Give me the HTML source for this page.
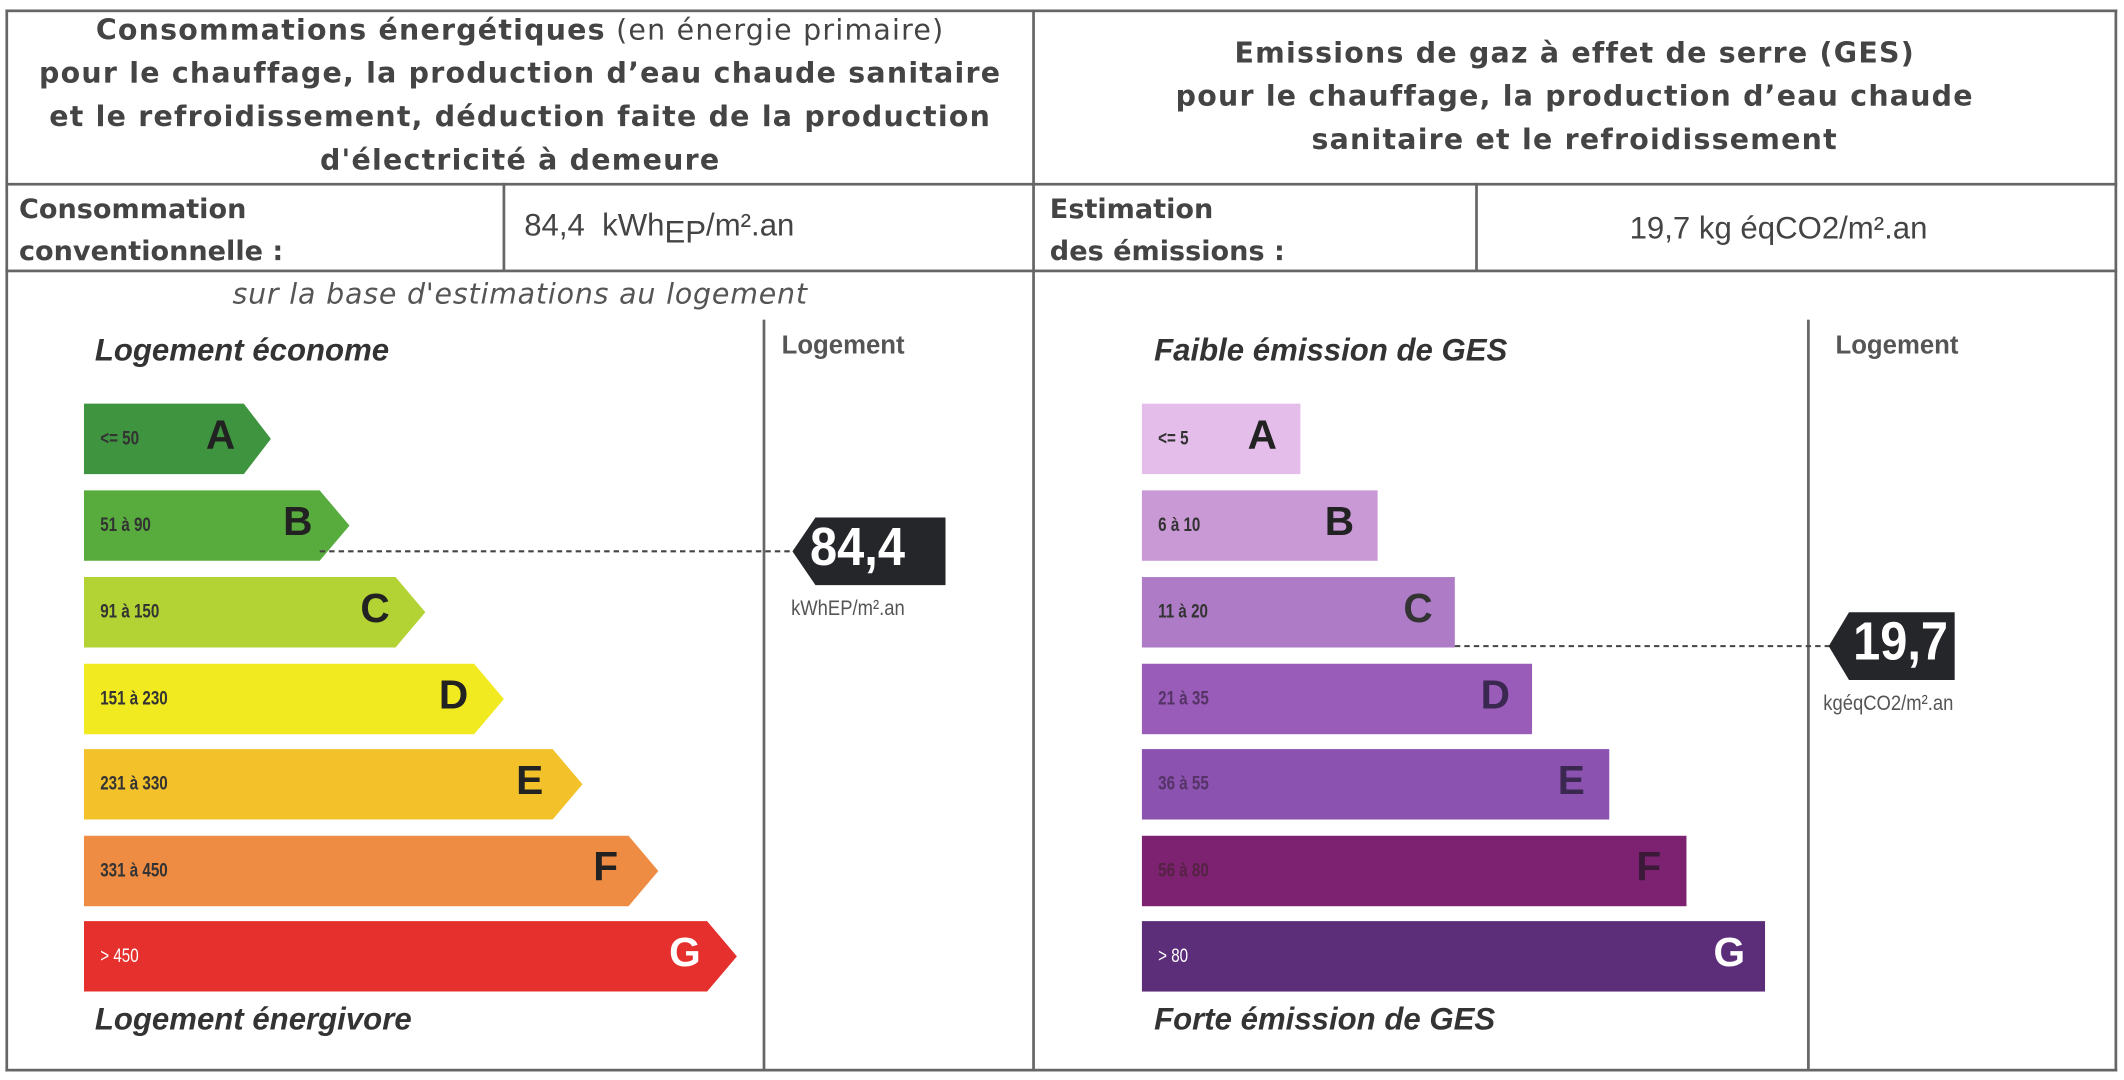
<!DOCTYPE html>
<html><head><meta charset="utf-8"><style>
html,body{margin:0;padding:0;background:#fff;width:2124px;height:1080px;overflow:hidden}
#w{position:absolute;left:0;top:0;width:1568px;height:797px;transform:scale(1.35459);transform-origin:0 0;font-family:"DejaVu Sans","Liberation Sans",sans-serif;color:#444}
.a{position:absolute;white-space:nowrap}
.h{position:absolute;background:#666}
.c{text-align:center}
.b{font-weight:bold}
.it{font-family:"Liberation Sans",sans-serif;font-style:italic;font-weight:bold;font-size:23px;color:#333}
.lg{font-family:"Liberation Sans",sans-serif;font-weight:bold;font-size:19px;color:#555}
.rl{position:absolute;font-family:"Liberation Sans",sans-serif;font-weight:bold;font-size:14px;color:#333;transform:scaleX(.8);transform-origin:0 50%}
.lt{position:absolute;font-family:"Liberation Sans",sans-serif;font-weight:bold;font-size:30px;color:#222}
</style></head><body><div id="w">
<div class="h" style="left:4px;top:7px;width:1559px;height:2px"></div>
<div class="h" style="left:4px;top:135px;width:1559px;height:2px"></div>
<div class="h" style="left:4px;top:199px;width:1559px;height:2px"></div>
<div class="h" style="left:4px;top:789px;width:1559px;height:2px"></div>
<div class="h" style="left:4px;top:7px;width:2px;height:784px"></div>
<div class="h" style="left:1561px;top:7px;width:2px;height:784px"></div>
<div class="h" style="left:762px;top:7px;width:2px;height:784px"></div>
<div class="h" style="left:371px;top:135px;width:1.5px;height:65px"></div>
<div class="h" style="left:1089px;top:135px;width:1.5px;height:65px"></div>
<div class="h" style="left:563px;top:236px;width:1.5px;height:554px"></div>
<div class="h" style="left:1334px;top:236px;width:1.5px;height:554px"></div>

<div class="a c" style="left:6px;width:756px;top:6px;font-size:21px;letter-spacing:0.9px;line-height:32px">
<span class="b">Consommations énergétiques</span> (en énergie primaire)<br>
<span class="b">pour le chauffage, la production d’eau chaude sanitaire<br>et le refroidissement, déduction faite de la production<br>d'électricité à demeure</span></div>
<div class="a c b" style="left:764px;width:797px;top:23px;font-size:21px;letter-spacing:0.9px;line-height:32px">Emissions de gaz à effet de serre (GES)<br>pour le chauffage, la production d’eau chaude<br>sanitaire et le refroidissement</div>

<div class="a b" style="left:14px;top:139px;font-size:20px;line-height:31px">Consommation<br>conventionnelle :</div>
<div class="a" style="left:387px;top:153px;font-family:'Liberation Sans',sans-serif;font-size:23px">84,4&nbsp; kWh<span style="position:relative;top:5px">EP</span>/m².an</div>
<div class="a b" style="left:775px;top:139px;font-size:20px;line-height:31px">Estimation<br>des émissions :</div>
<div class="a" style="left:1203px;top:155px;font-family:'Liberation Sans',sans-serif;font-size:23px">19,7 kg éqCO2/m².an</div>

<div class="a c" style="left:6px;width:756px;top:205px;font-style:italic;font-size:21px;letter-spacing:0.6px;color:#555">sur la base d'estimations au logement</div>
<div class="a it" style="left:70px;top:245px">Logement économe</div>
<div class="a it" style="left:70px;top:739px">Logement énergivore</div>
<div class="a lg" style="left:577px;top:245px">Logement</div>

<div class="a it" style="left:852px;top:245px">Faible émission de GES</div>
<div class="a it" style="left:852px;top:739px">Forte émission de GES</div>
<div class="a lg" style="left:1355px;top:245px">Logement</div>

<svg class="a" style="left:0;top:0" width="1568" height="797">
<polygon points="62,298 180,298 200,324 180,350 62,350" fill="#3f9440"/>
<polygon points="62,362 236,362 258,388 236,414 62,414" fill="#58ac3e"/>
<polygon points="62,426 292,426 314,452 292,478 62,478" fill="#b3d334"/>
<polygon points="62,490 350,490 372,516 350,542 62,542" fill="#f2ea21"/>
<polygon points="62,553 408,553 430,579 408,605 62,605" fill="#f3c12a"/>
<polygon points="62,617 464,617 486,643 464,669 62,669" fill="#ee8c43"/>
<polygon points="62,680 522,680 544,706 522,732 62,732" fill="#e6302d"/>
<line x1="236" y1="407" x2="588" y2="407" stroke="#444" stroke-width="1.5" stroke-dasharray="4,3"/>
<polygon points="585,407 602,382 698,382 698,432 602,432" fill="#25262a"/>
<rect x="843" y="298" width="117" height="52" fill="#e4bdea"/>
<rect x="843" y="362" width="174" height="52" fill="#c999d6"/>
<rect x="843" y="426" width="231" height="52" fill="#ae7cc6"/>
<rect x="843" y="490" width="288" height="52" fill="#995cb8"/>
<rect x="843" y="553" width="345" height="52" fill="#8b52b0"/>
<rect x="843" y="617" width="402" height="52" fill="#7c2270"/>
<rect x="843" y="680" width="460" height="52" fill="#5c2d78"/>
<line x1="1074" y1="477" x2="1352" y2="477" stroke="#444" stroke-width="1.5" stroke-dasharray="4,3"/>
<polygon points="1350,477 1365,452 1443,452 1443,502 1365,502" fill="#25262a"/>
</svg>

<div class="rl" style="left:74px;top:315px">&lt;= 50</div>
<div class="rl" style="left:74px;top:379px">51 à 90</div>
<div class="rl" style="left:74px;top:443px">91 à 150</div>
<div class="rl" style="left:74px;top:507px">151 à 230</div>
<div class="rl" style="left:74px;top:570px">231 à 330</div>
<div class="rl" style="left:74px;top:634px">331 à 450</div>
<div class="rl" style="left:74px;top:697px;color:#fff;font-weight:normal">&gt; 450</div>
<div class="lt" style="left:152px;top:305px">A</div>
<div class="lt" style="left:209px;top:369px">B</div>
<div class="lt" style="left:266px;top:433px">C</div>
<div class="lt" style="left:324px;top:497px">D</div>
<div class="lt" style="left:381px;top:560px">E</div>
<div class="lt" style="left:438px;top:624px">F</div>
<div class="lt" style="left:494px;top:687px;color:#fff">G</div>
<div class="a" style="left:598px;top:382px;font-family:'Liberation Sans',sans-serif;font-weight:bold;font-size:40px;color:#fff;transform:scaleX(.9);transform-origin:0 0">84,4</div>
<div class="a" style="left:584px;top:441px;font-family:'Liberation Sans',sans-serif;font-size:16px;color:#555;transform:scaleX(.85);transform-origin:0 0">kWhEP/m².an</div>

<div class="rl" style="left:855px;top:315px">&lt;= 5</div>
<div class="rl" style="left:855px;top:379px">6 à 10</div>
<div class="rl" style="left:855px;top:443px">11 à 20</div>
<div class="rl" style="left:855px;top:507px;color:#553366">21 à 35</div>
<div class="rl" style="left:855px;top:570px;color:#553366">36 à 55</div>
<div class="rl" style="left:855px;top:634px;color:#552244">56 à 80</div>
<div class="rl" style="left:855px;top:697px;color:#fff;font-weight:normal">&gt; 80</div>
<div class="lt" style="left:921px;top:305px">A</div>
<div class="lt" style="left:978px;top:369px">B</div>
<div class="lt" style="left:1036px;top:433px;color:#333">C</div>
<div class="lt" style="left:1093px;top:497px;color:#3a2850">D</div>
<div class="lt" style="left:1150px;top:560px;color:#3a2850">E</div>
<div class="lt" style="left:1208px;top:624px;color:#3a1a38">F</div>
<div class="lt" style="left:1265px;top:687px;color:#fff">G</div>
<div class="a" style="left:1368px;top:452px;font-family:'Liberation Sans',sans-serif;font-weight:bold;font-size:40px;color:#fff;transform:scaleX(.9);transform-origin:0 0">19,7</div>
<div class="a" style="left:1346px;top:511px;font-family:'Liberation Sans',sans-serif;font-size:16px;color:#555;transform:scaleX(.85);transform-origin:0 0">kgéqCO2/m².an</div>
</div></body></html>
